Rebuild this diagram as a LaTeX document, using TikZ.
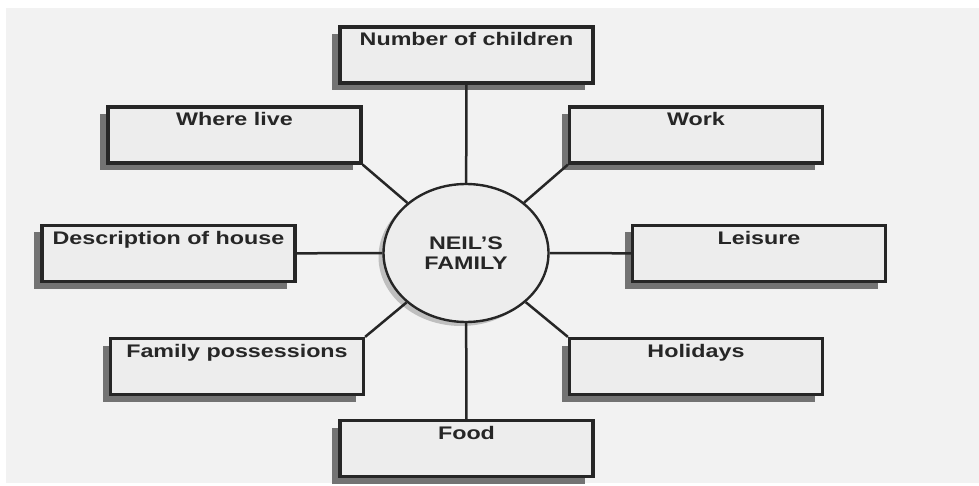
\documentclass[tikz,border=0pt]{standalone}
\usepackage{fontspec}
\setmainfont{Liberation Sans}
\usepackage{tikz}
\usetikzlibrary{shapes.geometric,shadows}

\definecolor{paper}{gray}{0.95}
\definecolor{boxfill}{gray}{0.93}
\definecolor{ink}{gray}{0.15}
\newcommand{\wtext}[1]{\scalebox{1.28}[1]{#1}}

\begin{document}
\begin{tikzpicture}[
    x=1pt, y=-1pt,
    topic/.style = {draw=ink, line width=3.2pt, fill=boxfill, minimum width=253pt,
      inner xsep=4pt, inner ysep=6pt, text height=13pt, text depth=31pt,
      font=\bfseries\fontsize{18.2}{20}\selectfont, text=ink,
      drop shadow={shadow xshift=-8pt, shadow yshift=-7pt, fill=black!55, opacity=1}},
    hub/.style = {ellipse, draw=ink, line width=2.4pt, fill=boxfill,
      minimum width=165pt, minimum height=138pt, align=center,
      font=\bfseries\fontsize{18.2}{20}\selectfont, text=ink,
      drop shadow={shadow xshift=-5pt, shadow yshift=-4pt, fill=black!25, opacity=1}},
    link/.style = {draw=ink, line width=2.5pt}
  ]
    \useasboundingbox (0,0) rectangle (979,486);
    \fill[paper] (6,8) rectangle (979,483);

    \node[topic] (nc) at (466.5,55) {\wtext{Number of children}};
    \node[topic] (wl) at (234.5,135) {\wtext{Where live}};
    \node[topic] (wk) at (696,135) {\wtext{Work}};
    \node[topic] (de) at (168.5,253.5) {\wtext{Description of house}};
    \node[topic] (le) at (759,253.5) {\wtext{Leisure}};
    \node[topic] (fp) at (237,366.5) {\wtext{Family possessions}};
    \node[topic] (ho) at (696,366.5) {\wtext{Holidays}};
    \node[topic] (fo) at (466.5,448.5) {\wtext{Food}};

    \node[hub] (fam) at (466,253) {\wtext{NEIL'S}\\\wtext{FAMILY}};

    \draw[link] (nc) -- (fam);
    \draw[link] (wl.south east) -- (fam);
    \draw[link] (wk.south west) -- (fam);
    \draw[link] (de) -- (fam);
    \draw[link] (le) -- (fam);
    \draw[link] (fp.north east) -- (fam);
    \draw[link] (ho.north west) -- (fam);
    \draw[link] (fo) -- (fam);
\end{tikzpicture}
\end{document}
